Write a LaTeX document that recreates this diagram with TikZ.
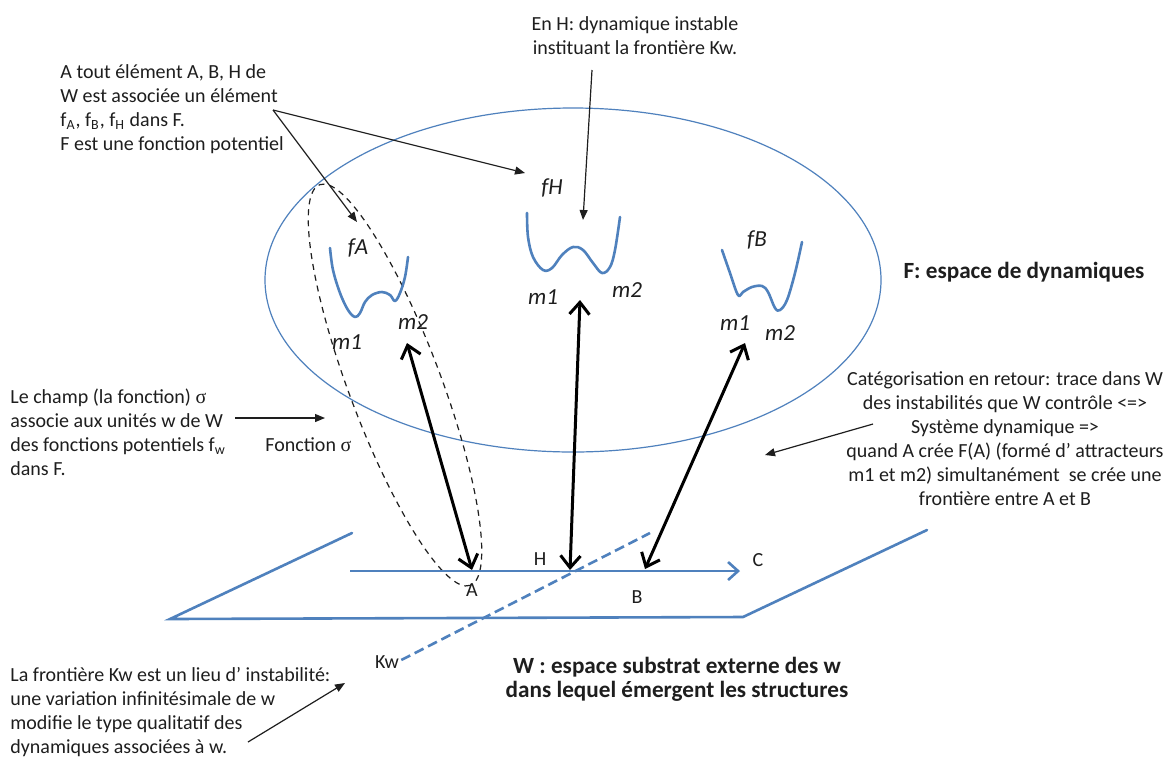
\documentclass[tikz,border=0pt]{standalone}
\usepackage{fontspec}
\setmainfont{Carlito}
\newfontfamily\symfont{Liberation Serif}
\usetikzlibrary{arrows.meta}
\definecolor{wblue}{RGB}{79,129,189}
\definecolor{inkc}{RGB}{30,30,30}
\begin{document}
\begin{tikzpicture}[x=0.5pt,y=-0.5pt,
  body/.style={font=\fontsize{10}{12}\selectfont, text=inkc, inner sep=0pt},
  boldtxt/.style={font=\fontsize{11.6}{12}\selectfont\bfseries, text=inkc, inner sep=0pt},
  lab/.style={font=\fontsize{11.5}{13}\selectfont\itshape, text=inkc, inner sep=0pt},
  well/.style={draw=wblue, line width=1.3pt, line cap=round, line join=round},
  plane/.style={draw=wblue, line width=1.3pt, line cap=round},
  thinarrow/.style={draw=inkc, line width=0.6pt, -{Triangle[length=5pt,width=4pt]}},
  dbl/.style={draw=black, line width=1.5pt, {Straight Barb[length=6pt,width=10pt]}-{Straight Barb[length=6pt,width=10pt]}}
]
\useasboundingbox (0,0) rectangle (1176,756);
\fill[white] (0,0) rectangle (1176,756);

% big ellipse F
\draw[wblue, line width=0.6pt] (573,280) ellipse [x radius=308, y radius=172];

% dashed ellipse around fA and A
\draw[inkc, line width=0.6pt, dash pattern=on 3pt off 2.5pt, rotate around={-69.4:(395,385)}]
  (395,385) ellipse [x radius=214, y radius=46];

% potential wells
\draw[well] plot[smooth, tension=0.6] coordinates {(330,248) (333,270) (340,293) (348,310) (355,317) (360,313) (365,302) (372,295) (382,292) (390,295) (395,301) (400,293) (405,277) (408,257)};
\draw[well] plot[smooth, tension=0.6] coordinates {(527,213) (528,237) (533,257) (543,270) (552,268) (562,255) (573,247) (583,250) (593,263) (602,273) (610,267) (615,250) (620,217)};
\draw[well] plot[smooth, tension=0.6] coordinates {(722,250) (730,273) (738,295) (743,292) (752,287) (762,286) (768,292) (775,308) (780,310) (787,300) (795,273) (802,242)};

% well labels
\node[lab] (fA) at (358,248) {fA};
\node[lab] (fH) at (552,188) {fH};
\node[lab] (fB) at (757,240) {fB};
\node[lab] (mA1) at (347,342) {m1};
\node[lab] (mA2) at (413,322) {m2};
\node[lab] (mH1) at (543,297) {m1};
\node[lab] (mH2) at (627,290) {m2};
\node[lab] (mB1) at (735,323) {m1};
\node[lab] (mB2) at (780,333) {m2};

% plane W
\draw[plane] (352,533) -- (170,619) -- (743,617) -- (927,530);
\coordinate (cs) at (350,571);
\coordinate (ce) at (740,571);
\draw[wblue, line width=1.3pt, -{Straight Barb[length=5pt,width=9pt]}] (cs) -- (ce);

% Kw dashed frontier
\node[body] (Kw) at (387,662) {Kw};
\coordinate (kwe) at (650,533);
\draw[wblue, line width=1.3pt, dash pattern=on 5pt off 2.5pt] (Kw.east) ++(2,-2) coordinate (kws) (kws) -- (kwe);

% points on the line
\node[body] (A) at (472,590) {A};
\node[body] (H) at (540,559) {H};
\node[body] (B) at (637,597) {B};
\node[body] (C) at (758,560) {C};

% thick double arrows
\coordinate (pA) at (472,570);
\coordinate (pH) at (570,570);
\coordinate (pB) at (645,569);
\coordinate (tA) at (407,343);
\coordinate (tH) at (580,300);
\coordinate (tB) at (745,343);
\draw[dbl] (pA) -- (tA);
\draw[dbl] (pH) -- (tH);
\draw[dbl] (pB) -- (tB);

% top-left text (base anchor = last line)
\node[body, align=left, anchor=base west] (tl) at (60,150) {A tout élément A, B, H de\\W est associée un élément\\f\textsubscript{A}, f\textsubscript{B}, f\textsubscript{H} dans F.\\F est une fonction potentiel};
\coordinate (tlp) at (273,110);
\coordinate (tofH) at (525,173);
\coordinate (tofA) at (357,222);
\draw[thinarrow] (tlp) -- (tofH);
\draw[thinarrow] (tlp) -- (tofA);

% top-center text
\node[body, align=center, anchor=base] (tc) at (635,54) {En H: dynamique instable\\instituant la frontière Kw.};
\coordinate (tcp) at (592,70);
\coordinate (tcH) at (583,220);
\draw[thinarrow] (tcp) -- (tcH);

% left-middle text
\node[body, align=left, anchor=base west] (lm) at (10,475) {Le champ (la fonction) {\symfont σ}\\associe aux unités w de W\\des fonctions potentiels f\textsubscript{w}\\dans F.};
\coordinate (lms) at (235,418);
\coordinate (lme) at (325,418);
\draw[thinarrow] (lms) -- (lme);
\node[body, anchor=base west] (fsig) at (265,451) {Fonction {\symfont σ}};

% F label
\node[boldtxt, anchor=base] (Flab) at (1024,278) {F: espace de dynamiques};

% right text
\node[body, align=center, anchor=base] (rt) at (1005,505) {Catégorisation en retour: trace dans W\\des instabilités que W contrôle <=>\\Système dynamique =>\\quand A crée F(A) (formé d’ attracteurs\\m1 et m2) simultanément \ se crée une\\frontière entre A et B};
\coordinate (rts) at (873,424);
\coordinate (rte) at (765,455);
\draw[thinarrow] (rts) -- (rte);

% bottom-left text
\node[body, align=left, anchor=base west] (bl) at (10,753) {La frontière Kw est un lieu d’ instabilité:\\une variation infinitésimale de w\\modifie le type qualitatif des\\dynamiques associées à w.};
\coordinate (bls) at (248,742);
\coordinate (ble) at (345,683);
\draw[thinarrow] (bls) -- (ble);

% W label
\node[boldtxt, align=center, anchor=base] (Wlab) at (677,697) {W : espace substrat externe des w\\dans lequel émergent les structures};
\end{tikzpicture}
\end{document}
